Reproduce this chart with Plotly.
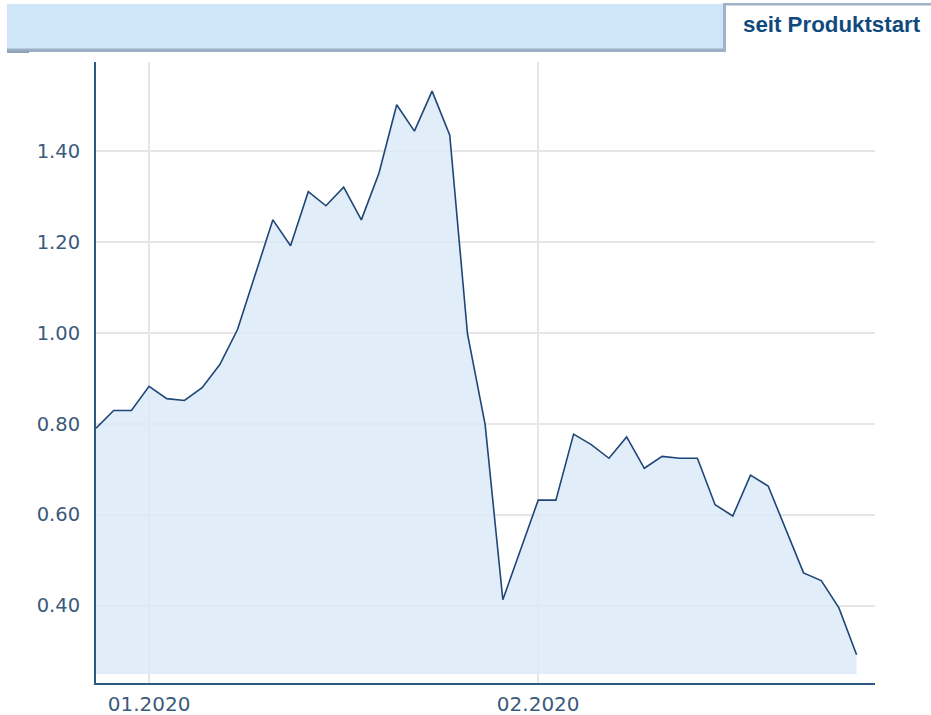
import plotly.graph_objects as go

# ---- data ----
values = [0.790, 0.829, 0.829, 0.882, 0.855, 0.851, 0.879, 0.930, 1.007, 1.129,
          1.248, 1.191, 1.310, 1.279, 1.320, 1.248, 1.351, 1.501, 1.443, 1.531,
          1.434, 0.998, 0.798, 0.413, 0.522, 0.632, 0.632, 0.777, 0.754, 0.724,
          0.771, 0.702, 0.728, 0.724, 0.724, 0.622, 0.597, 0.687, 0.663, 0.567,
          0.472, 0.455, 0.395, 0.292]
x_index = list(range(len(values)))
tick_positions = [3, 25]
tick_labels = ["01.2020", "02.2020"]
y_ticks = [0.40, 0.60, 0.80, 1.00, 1.20, 1.40]
header_text = "seit Produktstart"

# ---- style / layout constants ----
W, H = 931, 715
L, R, T, B = 96, 56, 62, 32
PW = W - L - R
PH = H - T - B
FILL_BASE = 0.25
AXIS_COLOR = "#2e5884"
LINE_COLOR = "#1f4676"
TICK_COLOR = "#3b5a7c"
GRID_COLOR = "#e6e6e6"


def px_x(px):
    return (px - L) / PW


def px_y(py):
    return (H - B - py) / PH


fig = go.Figure()
fig.add_trace(go.Scatter(
    x=x_index, y=[FILL_BASE] * len(values), mode="lines",
    line=dict(width=0, color="rgba(0,0,0,0)"), hoverinfo="skip", showlegend=False))
fig.add_trace(go.Scatter(
    x=x_index, y=values, mode="lines", fill="tonexty",
    fillcolor="rgba(218,234,248,0.82)",
    line=dict(color=LINE_COLOR, width=1.6), showlegend=False))

shapes = [
    # header blue bar
    dict(type="rect", xref="paper", yref="paper", x0=px_x(7), x1=px_x(724),
         y0=px_y(49), y1=px_y(4), fillcolor="#cfe5f8", line=dict(width=0), layer="above"),
    dict(type="rect", xref="paper", yref="paper", x0=px_x(7), x1=px_x(724),
         y0=px_y(52), y1=px_y(48.5), fillcolor="#9cb0c5", line=dict(width=0), layer="above"),
    dict(type="rect", xref="paper", yref="paper", x0=px_x(7), x1=px_x(29),
         y0=px_y(53), y1=px_y(50.5), fillcolor="#8ea3b9", line=dict(width=0), layer="above"),
    # tab borders
    dict(type="rect", xref="paper", yref="paper", x0=px_x(723), x1=px_x(931),
         y0=px_y(5.5), y1=px_y(3), fillcolor="#9fb3c8", line=dict(width=0), layer="above"),
    dict(type="rect", xref="paper", yref="paper", x0=px_x(723), x1=px_x(726),
         y0=px_y(52), y1=px_y(3), fillcolor="#9fb3c8", line=dict(width=0), layer="above"),
]

fig.update_layout(
    width=W, height=H,
    margin=dict(l=L, r=R, t=T, b=B, pad=0, autoexpand=False),
    paper_bgcolor="white", plot_bgcolor="white",
    shapes=shapes,
    annotations=[dict(
        text="<b>" + header_text + "</b>", xref="paper", yref="paper",
        x=px_x(831.5), y=px_y(25), xanchor="center", yanchor="middle",
        showarrow=False,
        font=dict(family="Liberation Sans, Arial, sans-serif", size=22.3, color="#104a7d"))],
    xaxis=dict(
        range=[0, 44.04], tickmode="array", tickvals=tick_positions, ticktext=tick_labels,
        showgrid=True, gridcolor=GRID_COLOR, gridwidth=1.5,
        showline=True, linecolor=AXIS_COLOR, linewidth=2,
        ticks="", zeroline=False, ticklabelstandoff=2, automargin=False,
        tickfont=dict(family="DejaVu Sans, Verdana, sans-serif", size=20, color=TICK_COLOR)),
    yaxis=dict(
        range=[0.230, 1.595], tickmode="array", tickvals=y_ticks,
        ticktext=[f"{v:.2f}" for v in y_ticks],
        showgrid=True, gridcolor=GRID_COLOR, gridwidth=1.5,
        showline=True, linecolor=AXIS_COLOR, linewidth=2,
        ticks="", zeroline=False, ticklabelstandoff=10, automargin=False,
        tickfont=dict(family="DejaVu Sans, Verdana, sans-serif", size=19.5, color=TICK_COLOR)),
)

fig.write_html("out.html", config={"displayModeBar": False},
               post_script="document.body.style.margin='0';")
